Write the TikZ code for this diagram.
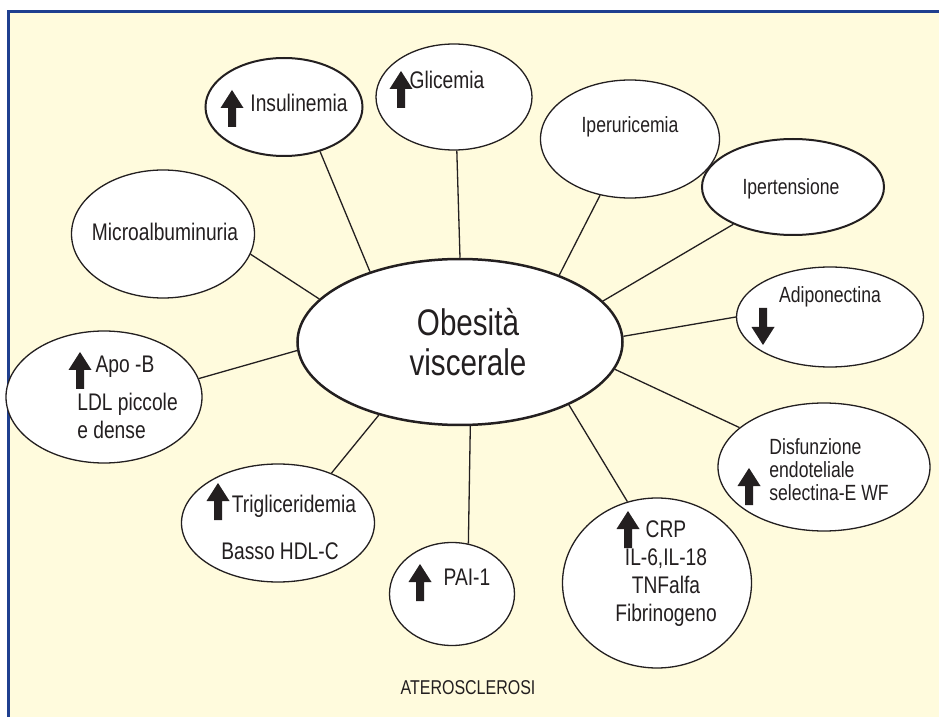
\documentclass[tikz,border=0pt]{standalone}
\usepackage{fontspec}
\setmainfont[FakeStretch=0.8]{Liberation Sans}
\usetikzlibrary{shapes.geometric}
\definecolor{panel}{RGB}{255,251,221}
\definecolor{frameblue}{RGB}{31,63,143}
\definecolor{ink}{RGB}{35,31,32}
\tikzset{
  bubble/.style = {ellipse, draw=ink, fill=white, line width=0.65pt, inner sep=0pt},
  bbubble/.style = {bubble, line width=1pt},
  hub/.style    = {bubble, line width=1.25pt},
  link/.style   = {draw=ink, line width=0.65pt},
  lbl/.style    = {font=\fontsize{12}{14}\selectfont, text=ink, inner sep=0pt},
  slbl/.style   = {font=\fontsize{11}{11.5}\selectfont, text=ink, inner sep=0pt},
  hlbl/.style   = {font=\fontsize{18.5}{20}\selectfont, text=ink, inner sep=0pt, align=center},
  flbl/.style   = {font=\fontsize{10}{12}\selectfont, text=ink, inner sep=0pt},
  uparr/.pic    = {\fill[ink] (0,0) -- (11.5,18) -- (4,18) -- (4,37) -- (-4,37)
                     -- (-4,18) -- (-11.5,18) -- cycle;},
  dnarr/.pic    = {\fill[ink] (0,0) -- (11.5,-18) -- (4,-18) -- (4,-37) -- (-4,-37)
                     -- (-4,-18) -- (-11.5,-18) -- cycle;},
}
\begin{document}
\begin{tikzpicture}[x=0.5pt,y=-0.5pt]
  \useasboundingbox (0,0) rectangle (939,717);
  \fill[white] (0,0) rectangle (939,717);
  \fill[panel] (8,12) rectangle (950,730);
  \draw[frameblue, line width=1.5pt] (8,730) -- (8,12) -- (950,12);

  % centre
  \node[hub, minimum width=162.5pt, minimum height=83pt] (ob) at (460,342) {};
  \node[hlbl] (tob) at (468,342) {Obesità\\viscerale};

  % satellites
  \node[bbubble, minimum width=78.5pt, minimum height=49pt] (ins) at (284,107) {};
  \node[bubble, minimum width=78pt, minimum height=53pt] (gli) at (454,97) {};
  \node[bubble, minimum width=89.5pt, minimum height=59pt] (ipu) at (630,139) {};
  \node[bbubble, minimum width=91pt, minimum height=48pt] (ipt) at (793,187) {};
  \node[bubble, minimum width=93.5pt, minimum height=50pt] (adi) at (830,317) {};
  \node[bubble, minimum width=106pt, minimum height=64pt] (dis) at (824,467) {};
  \node[bubble, minimum width=94.5pt, minimum height=85pt] (crp) at (657,583) {};
  \node[bubble, minimum width=62.5pt, minimum height=51.5pt] (pai) at (452,594) {};
  \node[bubble, minimum width=96.5pt, minimum height=59pt] (tri) at (278,523) {};
  \node[bubble, minimum width=98pt, minimum height=66pt] (apo) at (104,397) {};
  \node[bubble, minimum width=91.5pt, minimum height=64pt] (mic) at (163,234) {};

  % spokes
  \draw[link] (ob.163)   -- (mic.-13.6);
  \draw[link] (ob.142.5) -- (ins.-51.3);
  \draw[link] (ob.90)    -- (gli.-87);
  \draw[link] (ob.34)    -- (ipu.-118.5);
  \draw[link] (ob.16.7)  -- (ipt.-148.3);
  \draw[link] (ob.2)     -- (adi.180);
  \draw[link] (ob.-10)   -- (dis.155);
  \draw[link] (ob.-30)   -- (crp.110.3);
  \draw[link] (ob.-83)   -- (pai.72);
  \draw[link] (ob.-138)  -- (tri.43.9);
  \draw[link] (ob.-177)  -- (apo.11.2);

  % texts
  \node[lbl] (tins) at (299,103) {Insulinemia};
  \node[lbl] (tgli) at (447,80) {Glicemia};
  \node[slbl] (tipu) at (630,127) {Iperuricemia};
  \node[slbl] (tipt) at (791,189) {Ipertensione};
  \node[slbl] (tadi) at (830,297) {Adiponectina};
  \node[slbl, align=left, anchor=west] (tdis) at (769,470)
    {Disfunzione\\endoteliale\\selectina-E WF};
  \node[lbl, align=center] (tcrp) at (666,574) {CRP\\IL-6,IL-18\\TNFalfa\\Fibrinogeno};
  \node[lbl] (tpai) at (467,577) {PAI-1};
  \node[lbl] (ttri) at (294,506) {Trigliceridemia};
  \node[lbl] (thdl) at (280,551) {Basso HDL-C};
  \node[lbl] (tapo) at (125,367) {Apo -B};
  \node[lbl, align=left, anchor=west] (tldl) at (77,416) {LDL piccole\\e dense};
  \node[lbl] (tmic) at (165,232) {Microalbuminuria};
  \node[flbl] (tate) at (468,688) {ATEROSCLEROSI};

  % block arrows
  \pic at (232,90) {uparr};
  \pic at (401,71) {uparr};
  \pic at (763,345) {dnarr};
  \pic at (749,468) {uparr};
  \pic at (628,511) {uparr};
  \pic at (420,564) {uparr};
  \pic at (218,483) {uparr};
  \pic at (80,352) {uparr};
\end{tikzpicture}
\end{document}
